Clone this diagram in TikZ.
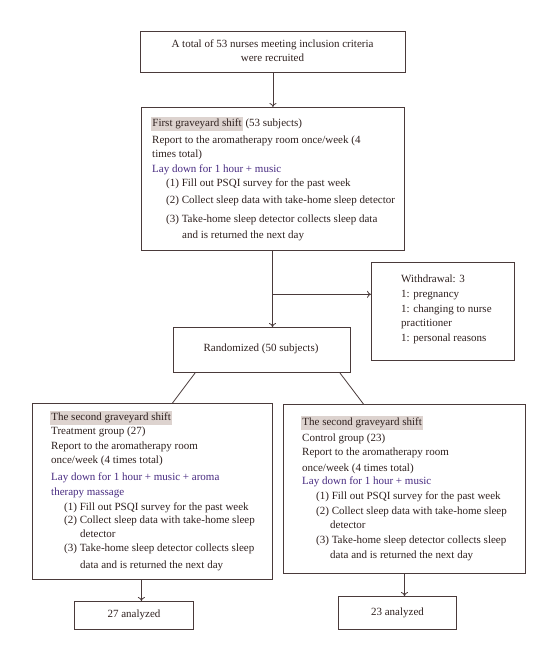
\documentclass[tikz,border=0pt]{standalone}
\usepackage{fontspec}
\setmainfont{Liberation Serif}
\usetikzlibrary{arrows.meta,calc}
\definecolor{txtc}{HTML}{2E201E}
\definecolor{purp}{HTML}{472A80}
\definecolor{linec}{HTML}{4A3A3A}
\definecolor{hlc}{HTML}{DDD3CF}
\newcommand{\hlbox}[1]{{\setlength{\fboxsep}{1.2pt}\colorbox{hlc}{\strut #1}}}
\begin{document}
\begin{tikzpicture}[x=1pt,y=-1pt,
  box/.style 2 args={draw=linec, line width=1pt, inner sep=0pt, anchor=north west, minimum width=#1pt, minimum height=#2pt},
  tl/.style={anchor=mid west, inner sep=0pt, text=txtc, font=\fontsize{11}{12}\selectfont},
  tp/.style={tl, text=purp},
  tc/.style={tl, anchor=mid},
  arr/.style={draw=linec, line width=0.8pt, -{To[length=4pt,width=7pt]}},
  ln/.style={draw=linec, line width=0.8pt}]
\useasboundingbox (0,0) rectangle (556,660);
% boxes
\node[box={265}{41}] (top) at (140,31) {};
\node[box={263}{143}] (first) at (141,107) {};
\node[box={143}{98}] (wd) at (371,262) {};
\node[box={177}{45}] (rand) at (173,327) {};
\node[box={240}{176}] (left) at (32,403) {};
\node[box={242}{169}] (right) at (283,404) {};
\node[box={119}{28}] (a27) at (74,601) {};
\node[box={118}{33}] (a23) at (338,596) {};
% top text
\node[tc] (t1) at (272.5,45) {A total of 53 nurses meeting inclusion criteria};
\node[tc] (t2) at (272.5,59) {were recruited};
% first box
\node[tl] (f1) at (151,124) {\hlbox{First graveyard shift} (53 subjects)};
\node[tl] (f2) at (152,141) {Report to the aromatherapy room once/week (4};
\node[tl] (f3) at (152,155) {times total)};
\node[tp] (f4) at (152,170) {Lay down for 1 hour + music};
\node[tl] (f5) at (166,184) {(1) Fill out PSQI survey for the past week};
\node[tl] (f6) at (166,201) {(2) Collect sleep data with take-home sleep detector};
\node[tl] (f7) at (166,220) {(3) Take-home sleep detector collects sleep data};
\node[tl] (f8) at (182,236) {and is returned the next day};
% withdrawal
\node[tl] (w1) at (401,280) {Withdrawal: 3};
\node[tl] (w2) at (401,295) {1: pregnancy};
\node[tl] (w3) at (401,310) {1: changing to nurse};
\node[tl] (w4) at (401,324) {practitioner};
\node[tl] (w5) at (401,339) {1: personal reasons};
% randomized
\node[tc] (r1) at (261,349) {Randomized (50 subjects)};
% left box
\node[tl] (l1) at (50,418) {\hlbox{The second graveyard shift}};
\node[tl] (l2) at (51,432) {Treatment group (27)};
\node[tl] (l3) at (51,447) {Report to the aromatherapy room};
\node[tl] (l4) at (51,461) {once/week (4 times total)};
\node[tp] (l5) at (51,478) {Lay down for 1 hour + music + aroma};
\node[tp] (l6) at (51,493) {therapy massage};
\node[tl] (l7) at (64,508) {(1) Fill out PSQI survey for the past week};
\node[tl] (l8) at (64,521) {(2) Collect sleep data with take-home sleep};
\node[tl] (l9) at (80,535) {detector};
\node[tl] (l10) at (64,549) {(3) Take-home sleep detector collects sleep};
\node[tl] (l11) at (80,566) {data and is returned the next day};
% right box
\node[tl] (q1) at (301,423) {\hlbox{The second graveyard shift}};
\node[tl] (q2) at (302,439) {Control group (23)};
\node[tl] (q3) at (302,453) {Report to the aromatherapy room};
\node[tl] (q4) at (302,469) {once/week (4 times total)};
\node[tp] (q5) at (302,482) {Lay down for 1 hour + music};
\node[tl] (q6) at (316,497) {(1) Fill out PSQI survey for the past week};
\node[tl] (q7) at (316,512) {(2) Collect sleep data with take-home sleep};
\node[tl] (q8) at (330,526) {detector};
\node[tl] (q9) at (316,541) {(3) Take-home sleep detector collects sleep};
\node[tl] (q10) at (330,556) {data and is returned the next day};
% analyzed
\node[tc] (n27) at (a27.center) {27 analyzed};
\node[tc] (n23) at (a23.center) {23 analyzed};
% connectors
\coordinate (ctop) at ($(top.south west)!0.4997!(top.south east)$);
\draw[arr] (ctop) -- (ctop |- first.north);
\coordinate (cfirst) at ($(first.south west)!0.4981!(first.south east)$);
\draw[arr] (cfirst) -- (cfirst |- rand.north);
\coordinate (br) at ($(cfirst)!0.57!(cfirst |- rand.north)$);
\draw[arr] (br) -- (br -| wd.west);
\draw[ln] ($(rand.south west)!0.124!(rand.south east)$) -- ($(left.north west)!0.583!(left.north east)$);
\draw[ln] ($(rand.south west)!0.938!(rand.south east)$) -- ($(right.north west)!0.331!(right.north east)$);
\coordinate (cleft) at ($(left.south west)!0.454!(left.south east)$);
\draw[arr] (cleft) -- (cleft |- a27.north);
\draw[arr] (right.south) -- (right.south |- a23.north);
\end{tikzpicture}
\end{document}
